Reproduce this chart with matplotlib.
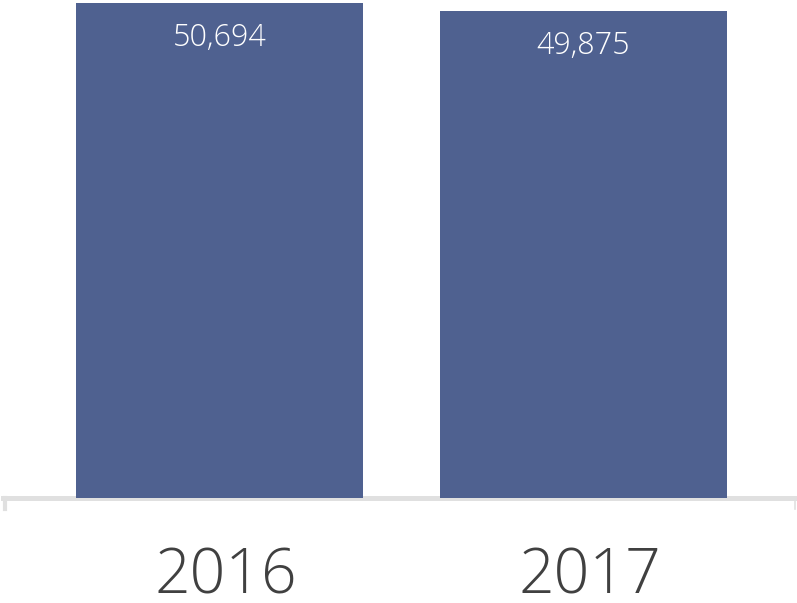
import matplotlib
matplotlib.use('Agg')
from matplotlib import pyplot as plt
from matplotlib.lines import Line2D
from matplotlib.transforms import ScaledTranslation

# Data
years = ['2016', '2017']
values = [50694, 49875]

bar_color = '#4f6190'
axis_color = '#e0e0e0'
text_color = '#404040'

plt.rcParams['font.family'] = ['Open Sans', 'DejaVu Sans']

fig = plt.figure(figsize=(7.97, 6.03), dpi=100)
ax = fig.add_axes([3 / 797, 105 / 603, 793 / 797, 498 / 603])

x = list(range(len(years)))
bars = ax.bar(x, values, width=0.788, color=bar_color, zorder=2)

ax.set_xlim(-0.595, 1.584)
ax.set_ylim(0, 50694 * 498 / 495)

# value labels inside the top of each bar
for rect, v in zip(bars, values):
    ax.annotate('{:,}'.format(v),
                (rect.get_x() + rect.get_width() / 2, rect.get_height()),
                xytext=(0, -25.5), textcoords='offset points',
                ha='center', va='center', color='white',
                fontsize=22, fontweight='light')

# axis styling: only a thick grey baseline
for s in ['top', 'right', 'left']:
    ax.spines[s].set_visible(False)
ax.spines['bottom'].set_color(axis_color)
ax.spines['bottom'].set_linewidth(3.6)
ax.spines['bottom'].set_zorder(1)
ax.set_yticks([])
ax.set_xticks(x)
ax.set_xticklabels(years, fontsize=45, fontweight='light', color=text_color)
ax.tick_params(axis='x', length=0, pad=34)

# year labels sit a little right of the bar centres in the original
shift = ScaledTranslation(6 / 100, 0, fig.dpi_scale_trans)
for lbl in ax.get_xticklabels():
    lbl.set_transform(lbl.get_transform() + shift)

# small end ticks hanging from the baseline
ax.add_line(Line2D([0.002, 0.002], [0, -0.022], transform=ax.transAxes,
                   color=axis_color, lw=3, clip_on=False))
ax.add_line(Line2D([0.999, 0.999], [0, -0.022], transform=ax.transAxes,
                   color=axis_color, lw=1.2, clip_on=False))

fig.savefig('out.png', dpi=100)
